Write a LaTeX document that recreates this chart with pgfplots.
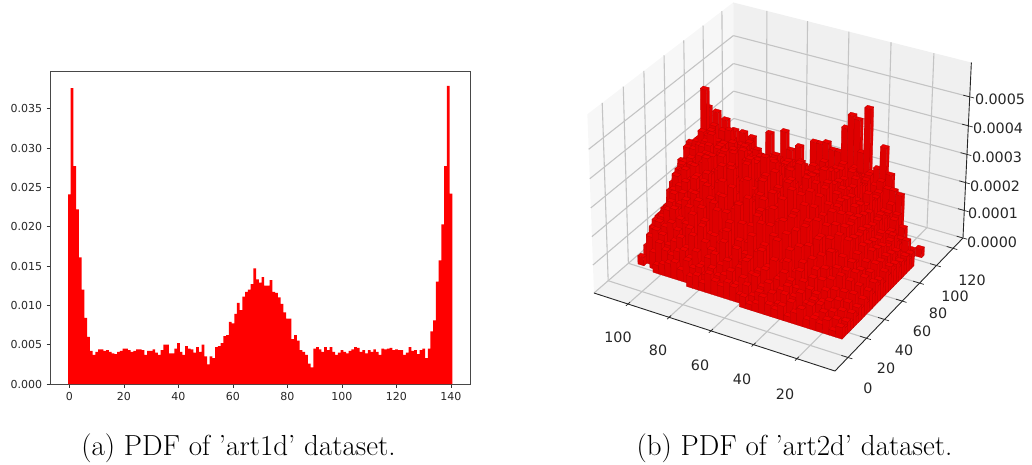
\documentclass[border=0pt]{standalone}
\usepackage{fontspec}
\usepackage{pgfplots}
\pgfplotsset{compat=1.18}
\usepgfplotslibrary{patchplots}
\newfontfamily\djv{DejaVu Sans}
\definecolor{tl}{HTML}{262626}
\definecolor{gridc}{HTML}{C4C4C4}
% projection of the 3-D plot: data x, data y, height in units of 1e-5 -> picture position
\newcommand\proj[3]{%
 \pgfmathsetmacro\myU{0.151+(#1-20)/114}%
 \pgfmathsetmacro\myV{0.0944+(#2)/146}%
 \pgfmathsetmacro\myW{(#3)/61.7}%
 \pgfmathsetmacro\myD{1+0.05294*\myU+0.08477*\myV-0.0418*\myW}%
 \pgfmathsetmacro\PX{(835-209.55*\myU+209.63*\myV-31.5*\myW)/\myD}%
 \pgfmathsetmacro\PY{464-(371-62.49*\myU-112.82*\myV-193*\myW)/\myD}%
}
% a pane (four corners)
\newcommand\pane[5]{%
 \proj#2\edef\pa{(\PX,\PY)}\proj#3\edef\pb{(\PX,\PY)}\proj#4\edef\pc{(\PX,\PY)}\proj#5\edef\pd{(\PX,\PY)}%
 \edef\tmp{\noexpand\addplot[fill=#1,draw=none] coordinates {\pa\pb\pc\pd\pa};}\tmp}
% a straight segment
\newcommand\seg[3]{%
 \proj#2\edef\pa{(\PX,\PY)}\proj#3\edef\pb{(\PX,\PY)}%
 \edef\tmp{\noexpand\addplot[#1] coordinates {\pa\pb};}\tmp}
% one row of bars, j = row index, i0 = first column, then heights (1e-5)
\newcount\ci
\newcommand\barrow[3]{%
 \gdef\rowlist{}\global\ci=#2\relax
 \foreach \hh in {#3}{%
  \ifdim\hh pt>0pt
   \pgfmathsetmacro\xa{11+3*\the\ci}\pgfmathsetmacro\xb{\xa+3}%
   \pgfmathsetmacro\ya{13+3*#1}\pgfmathsetmacro\yb{\ya+3}%
   \proj{\xa}{\ya}{0}\edef\va{(\PX,\PY)}%
   \proj{\xb}{\ya}{0}\edef\vb{(\PX,\PY)}%
   \proj{\xa}{\yb}{0}\edef\vc{(\PX,\PY)}%
   \proj{\xa}{\ya}{\hh}\edef\vd{(\PX,\PY)}%
   \proj{\xb}{\ya}{\hh}\edef\ve{(\PX,\PY)}%
   \proj{\xb}{\yb}{\hh}\edef\vf{(\PX,\PY)}%
   \proj{\xa}{\yb}{\hh}\edef\vg{(\PX,\PY)}%
   \xdef\rowlist{\va[0.2]\vb[0.2]\ve[0.2]\vd[0.2]\va[0.6]\vc[0.6]\vg[0.6]\vd[0.6]\vd[1]\ve[1]\vf[1]\vg[1]\rowlist}%
  \fi
  \global\advance\ci by 1\relax
 }%
 \edef\tmp{\noexpand\addplot[patch,patch type=rectangle,shader=faceted,faceted color=barline,line width=0.25pt,point meta=explicit,forget plot] coordinates {\rowlist};}\tmp
}
\definecolor{barline}{HTML}{BC0000}
\begin{document}
\begin{tikzpicture}[x=1pt,y=1pt]
\path[use as bounding box] (0,0) rectangle (1032,464);
\begin{axis}[
  at={(50.5pt,80pt)},anchor=south west,
  scale only axis,width=419.5pt,height=312.3pt,
  xmin=-6.93,xmax=147,ymin=0,ymax=0.0397,
  xtick={0,20,...,140},
  ytick={0,0.005,...,0.035},
  scaled y ticks=false,
  tick align=outside,tick pos=lower,
  major tick length=3.9pt,
  axis line style={black!72,line width=0.8pt},
  tick style={black!80,line width=0.7pt},
  ticklabel style={font=\djv\fontsize{11}{12}\selectfont,text=tl},
  xticklabel style={yshift=-1pt},
  yticklabel style={/pgf/number format/fixed,/pgf/number format/fixed zerofill,/pgf/number format/precision=3,xshift=-1pt},
  /pgf/number format/assume math mode=true,
]
\addplot[const plot,fill=red,draw=none] coordinates {
(-0.5,.0241)(0.5,.0376)(1.5,.0277)(2.5,.0222)(3.5,.0161)(4.5,.0120)(5.5,.0084)(6.5,.0060)(7.5,.0042)(8.5,.0037)
(9.5,.0041)(10.5,.0044)(11.5,.0044)(12.5,.0042)(13.5,.0043)(14.5,.0041)(15.5,.0039)(16.5,.0038)(17.5,.0041)(18.5,.0042)
(19.5,.0045)(20.5,.0045)(21.5,.0043)(22.5,.0041)(23.5,.0042)(24.5,.0044)(25.5,.0044)(26.5,.0043)(27.5,.0037)(28.5,.0042)
(29.5,.0042)(30.5,.0044)(31.5,.0040)(32.5,.0037)(33.5,.0043)(34.5,.0050)(35.5,.0050)(36.5,.0039)(37.5,.0039)(38.5,.0045)
(39.5,.0052)(40.5,.0041)(41.5,.0037)(42.5,.0048)(43.5,.0045)(44.5,.0044)(45.5,.0040)(46.5,.0047)(47.5,.0041)(48.5,.0050)
(49.5,.0035)(50.5,.0025)(51.5,.0035)(52.5,.0033)(53.5,.0047)(54.5,.0048)(55.5,.0052)(56.5,.0061)(57.5,.0062)(58.5,.0079)
(59.5,.0077)(60.5,.0089)(61.5,.0103)(62.5,.0094)(63.5,.0111)(64.5,.0117)(65.5,.0120)(66.5,.0127)(67.5,.0147)(68.5,.0133)
(69.5,.0129)(70.5,.0136)(71.5,.0125)(72.5,.0125)(73.5,.0132)(74.5,.0117)(75.5,.0116)(76.5,.0110)(77.5,.0102)(78.5,.0091)
(79.5,.0083)(80.5,.0083)(81.5,.0057)(82.5,.0062)(83.5,.0055)(84.5,.0043)(85.5,.0041)(86.5,.0037)(87.5,.0026)(88.5,.0021)
(89.5,.0045)(90.5,.0047)(91.5,.0044)(92.5,.0041)(93.5,.0047)(94.5,.0043)(95.5,.0047)(96.5,.0041)(97.5,.0037)(98.5,.0040)
(99.5,.0043)(100.5,.0041)(101.5,.0039)(102.5,.0042)(103.5,.0044)(104.5,.0047)(105.5,.0046)(106.5,.0041)(107.5,.0043)(108.5,.0039)
(109.5,.0043)(110.5,.0041)(111.5,.0044)(112.5,.0041)(113.5,.0037)(114.5,.0045)(115.5,.0044)(116.5,.0045)(117.5,.0046)(118.5,.0043)
(119.5,.0044)(120.5,.0043)(121.5,.0043)(122.5,.0037)(123.5,.0040)(124.5,.0047)(125.5,.0042)(126.5,.0043)(127.5,.0038)(128.5,.0043)
(129.5,.0045)(130.5,.0033)(131.5,.0045)(132.5,.0067)(133.5,.0081)(134.5,.0130)(135.5,.0157)(136.5,.0203)(137.5,.0277)(138.5,.0379)
(139.5,.0242)(140.5,.0242)} \closedcycle;
\end{axis}
\begin{axis}[
  at={(0pt,0pt)},anchor=south west,
  scale only axis,width=1032pt,height=464pt,
  xmin=0,xmax=1032,ymin=0,ymax=464,
  hide axis,clip=false,
  colormap={redbars}{rgb255=(218,0,0) rgb255=(236,0,0)},
  point meta min=0,point meta max=1,
]
% panes
\pane{black!3}{{116.8}{-13.8}{0}}{{116.8}{132.2}{0}}{{116.8}{132.2}{61.7}}{{116.8}{-13.8}{61.7}}
\pane{black!6}{{2.8}{132.2}{0}}{{116.8}{132.2}{0}}{{116.8}{132.2}{61.7}}{{2.8}{132.2}{61.7}}
\pane{black!5}{{2.8}{-13.8}{0}}{{116.8}{-13.8}{0}}{{116.8}{132.2}{0}}{{2.8}{132.2}{0}}
% grid: x ticks
\foreach \t in {20,40,60,80,100}{%
 \seg{gridc,line width=1.1pt}{{\t}{-13.8}{0}}{{\t}{132.2}{0}}
 \seg{gridc,line width=1.1pt}{{\t}{132.2}{0}}{{\t}{132.2}{61.7}}
}
% grid: y ticks
\foreach \t in {0,20,40,60,80,100,120}{%
 \seg{gridc,line width=1.1pt}{{2.8}{\t}{0}}{{116.8}{\t}{0}}
 \seg{gridc,line width=1.1pt}{{116.8}{\t}{0}}{{116.8}{\t}{61.7}}
}
% grid: z ticks
\foreach \t in {0,10,20,30,40,50}{%
 \seg{gridc,line width=1.1pt}{{116.8}{-13.8}{\t}}{{116.8}{132.2}{\t}}
 \seg{gridc,line width=1.1pt}{{116.8}{132.2}{\t}}{{2.8}{132.2}{\t}}
}
% axis lines
\seg{black!85,line width=0.9pt}{{116.8}{-13.8}{0}}{{2.8}{-13.8}{0}}
\seg{black!85,line width=0.9pt}{{2.8}{-13.8}{0}}{{2.8}{132.2}{0}}
\seg{black!85,line width=0.9pt}{{2.8}{132.2}{0}}{{2.8}{132.2}{61.7}}
\foreach \t in {20,40,60,80,100}{\seg{black!85,line width=0.7pt}{{\t}{-15.8}{0}}{{\t}{-11.8}{0}}}
\foreach \t in {0,20,40,60,80,100,120}{\seg{black!85,line width=0.7pt}{{0.8}{\t}{0}}{{5.8}{\t}{0}}}
\foreach \t in {0,10,20,30,40,50}{\seg{black!85,line width=0.7pt}{{0.8}{132.2}{\t}}{{5.8}{132.2}{\t}}}
% bars, back to front
\barrow{32}{11}{40,41,36,27,27,29,28,28}
\barrow{31}{9}{46,30,24,22,22,22,21,23,20,19,19,26}
\barrow{30}{0}{3,0,0,0,0,26,35,27,25,23,23,24,22,20,19,20,18,19,18,19,18,25,31}
\barrow{29}{1}{3,0,21,22,22,24,22,25,20,24,22,21,19,18,19,18,19,18,19,18,19,18,19,30}
\barrow{28}{2}{11,15,18,15,21,17,24,19,25,20,19,18,17,19,16,19,18,16,19,17,19,18,19,20}
\barrow{27}{1}{8,8,14,16,13,20,17,23,26,18,21,19,20,17,19,20,18,19,17,19,20,18,19,18,19,29}
\barrow{26}{0}{5,4,7,11,15,12,20,16,24,27,19,22,20,21,18,20,22,19,21,20,21,22,19,21,20,22,28,31}
\barrow{25}{0}{4,5,9,11,16,13,21,17,25,29,20,24,22,23,19,22,24,20,23,21,22,24,20,23,21,22,25,24,32}
\barrow{24}{0}{6,4,12,9,18,14,24,18,28,21,32,25,23,26,20,24,25,23,21,24,26,22,25,24,20,24,27,24,29,36}
\barrow{23}{0}{5,8,11,9,17,13,21,18,26,20,31,23,27,28,19,26,25,28,21,26,28,24,27,28,20,27,30,22,28,33,39}
\barrow{22}{0}{6,7,10,14,12,20,15,23,19,29,22,29,25,29,18,29,27,30,22,28,30,24,29,30,21,29,26,32,23,30,35,41}
\barrow{21}{0}{5,9,8,13,17,14,23,18,27,21,32,24,31,20,29,31,26,31,22,31,31,25,30,31,21,32,27,36,24,31,34,48,30}
\barrow{20}{0}{7,6,12,10,16,21,15,26,19,30,23,33,27,33,20,33,28,32,24,33,19,30,33,26,33,22,33,28,31,25,33,34,30,29}
\barrow{19}{0}{6,10,8,14,18,13,24,17,29,21,34,25,32,22,31,32,26,32,19,32,28,32,24,32,27,32,21,33,29,35,32,30,28,28}
\barrow{18}{0}{8,9,13,11,17,22,16,27,20,31,24,32,21,32,28,32,23,32,26,32,20,32,29,31,25,33,27,33,22,32,31,26,25,24}
\barrow{17}{0}{6,10,7,15,19,14,23,18,29,22,36,25,33,20,33,30,26,33,22,33,27,33,19,33,28,32,24,33,26,30,28,26,25,25}
\barrow{16}{0}{8,6,14,11,18,23,16,28,21,33,24,34,26,31,20,34,28,34,23,30,34,25,32,21,34,27,33,24,31,26,27,28,26,21}
\barrow{15}{0}{5,11,9,16,13,22,17,27,20,32,25,35,22,38,27,31,24,36,28,20,34,26,37,23,30,35,21,32,27,31,26,24,26,20}
\barrow{14}{0}{7,6,12,10,19,15,26,18,28,22,34,25,31,19,36,27,33,23,38,29,21,35,26,31,24,34,28,22,30,27,28,25,25,15}
\barrow{13}{0}{6,10,8,15,12,23,16,27,20,31,24,36,22,33,28,19,35,26,31,21,37,27,24,33,20,30,26,33,25,29,27,26,24,15}
\barrow{12}{0}{8,5,11,13,20,14,24,18,26,21,33,24,29,35,20,31,26,34,22,28,36,19,30,26,33,23,29,21,27,25,28,24,22,13}
\barrow{11}{0}{5,10,7,14,11,22,16,24,19,29,23,32,20,35,26,30,22,33,27,19,31,25,34,21,28,24,30,23,27,25,23,26,20,13}
\barrow{10}{0}{7,4,12,9,16,13,21,17,26,20,30,23,34,19,27,31,22,29,24,33,18,27,23,30,21,26,28,20,23,26,24,22,15,12}
\barrow{9}{0}{4,9,6,13,10,18,14,22,17,26,19,28,23,31,20,26,29,18,27,22,25,30,19,26,23,28,18,24,21,23,20,18,14,12}
\barrow{8}{0}{6,3,11,8,14,19,12,22,15,25,18,27,21,24,28,17,26,20,29,16,24,22,27,18,25,20,23,17,22,20,23,18,14,10}
\barrow{7}{0}{4,8,5,13,9,14,18,12,20,16,24,17,26,19,23,16,25,21,18,27,15,23,20,25,16,22,18,21,15,19,21,17,14,10}
\barrow{6}{0}{5,3,9,6,12,15,10,17,13,20,15,23,17,21,14,24,18,16,22,13,21,17,24,15,19,12,20,16,17,20,19,16,14,8}
\barrow{5}{0}{3,7,4,10,7,12,15,9,16,12,19,14,21,11,18,15,20,13,17,10,19,14,16,11,18,13,16,9,14,16,14,15,12,5}
\barrow{4}{0}{5,3,8,5,10,6,13,9,14,7,16,10,15,12,17,8,13,11,15,9,16,7,12,14,8,15,10,13,11,9,12,13,10,0}
\barrow{3}{0}{3,6,5,8,7,9,10,12,9,11,13,10,8,12,11,9,13,10,8,11,9,12,10,7,11,8,10,9,7,8,10,6,0,3}
\barrow{2}{0}{4,3,6,5,7,8,6,9,7,10,8,6,9,7,10,6,8,5,9,7,6,8,5,7,6,8,4,6,5,4,3}
\barrow{1}{0}{3,5,4,6,4,7,5,3,6,8,4,7,5,6,4,7,3,5,6,4,5,7,3,5,4}
\barrow{0}{0}{4,2,5,3,4,3,6,4,2,5,3,4,6,3,2,4}
% tick labels
\begingroup
\def\lab#1#2#3{\node[font=\djv\fontsize{14.3}{16}\selectfont,text=tl,anchor=center] at (axis cs:#1,#2) {#3};}
\lab{618}{127}{100}\lab{658}{114}{80}\lab{700}{99}{60}\lab{742}{85}{40}\lab{785}{70}{20}
\lab{868}{76}{0}\lab{886}{96}{20}\lab{904}{114}{40}\lab{922}{133}{60}\lab{938}{151}{80}\lab{955}{168}{100}\lab{972}{184}{120}
\lab{992}{222}{0.0000}\lab{993}{251}{0.0001}\lab{995}{278}{0.0002}\lab{997}{307}{0.0003}\lab{998}{336}{0.0004}\lab{1000}{365}{0.0005}
\endgroup
\end{axis}
\node[font=\fontsize{29}{32}\selectfont,anchor=center] at (238.5,16) {(a) PDF of 'art1d' dataset.};
\node[font=\fontsize{29}{32}\selectfont,anchor=center] at (794.5,16) {(b) PDF of 'art2d' dataset.};
\end{tikzpicture}
\end{document}
